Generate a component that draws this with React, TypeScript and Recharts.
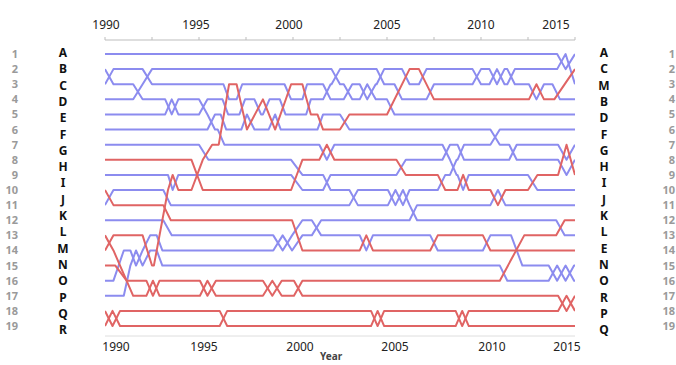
/* ---------- Rank Bump Chart 1990-2015 ---------- */
import { LineChart, Line, XAxis, YAxis } from 'recharts';

const BLUE = '#8c8cef';
const RED = '#e06464';

const rankTicks = [1, 2, 3, 4, 5, 6, 7, 8, 9, 10, 11, 12, 13, 14, 15, 16, 17, 18, 19];
const yearTicks = [1990, 1992.5, 1995, 1997.5, 2000, 2002.5, 2005, 2007.5, 2010, 2012.5, 2015];
const yearLabels = [1990, 1995, 2000, 2005, 2010, 2015];
const leftLetters = ['A', 'B', 'C', 'D', 'E', 'F', 'G', 'H', 'I', 'J', 'K', 'L', 'M', 'N', 'O', 'P', 'Q', 'R'];
const rightLetters = ['A', 'C', 'M', 'B', 'D', 'F', 'G', 'H', 'I', 'J', 'K', 'L', 'E', 'N', 'O', 'R', 'P', 'Q'];

// bend points [year, rank] for each line, named after its 1990 rank
const line1 = [[1990, 1], [2014.05, 1], [2014.5, 2], [2015, 1]];
const line2 = [[1990, 2], [1990.45, 3], [1991.5, 3], [1992, 4], [1993.2, 4], [1993.55, 5], [1993.9, 4], [1995, 4], [1995.45, 5], [1995.85, 6], [1996, 6], [1996.35, 7], [2001.4, 7], [2001.8, 8], [2002.2, 7], [2007.95, 7], [2008.35, 8], [2008.7, 9], [2008.75, 9], [2009.05, 10], [2009.35, 9], [2012.5, 9], [2013, 10], [2015, 10]];
const line3 = [[1990, 3], [1990.45, 2], [1992, 2], [1992.5, 3], [1996.3, 3], [1996.6, 4], [1997, 4], [1997.3, 3], [1999.55, 3], [1999.9, 4], [2000.5, 4], [2000.75, 3], [2001.6, 3], [2002, 4], [2002.7, 4], [2003.15, 3], [2003.55, 3], [2003.95, 4], [2004.4, 3], [2004.45, 3], [2004.85, 2], [2005.8, 2], [2006.2, 3], [2006.7, 3], [2007.1, 2], [2009.55, 2], [2010, 3], [2010.45, 3], [2010.85, 2], [2011.25, 3], [2011.4, 3], [2011.8, 2], [2014.05, 2], [2014.5, 1], [2015, 3]];
const line4 = [[1990, 4], [1991.5, 4], [1992, 3], [1992.5, 2], [2002.05, 2], [2002.5, 3], [2002.7, 3], [2003.15, 4], [2003.55, 4], [2003.95, 3], [2004.4, 4], [2005, 4], [2005.4, 5], [2015, 5]];
const line5 = [[1990, 5], [1993.2, 5], [1993.55, 4], [1993.9, 5], [1995, 5], [1995.45, 4], [1996.25, 4], [1996.55, 5], [1997.15, 5], [1997.45, 4], [1997.95, 4], [1998.3, 5], [1998.4, 5], [1998.75, 4], [1999.3, 4], [1999.6, 5], [2000.7, 5], [2000.95, 4], [2001.6, 4], [2002, 3], [2002.05, 3], [2002.5, 2], [2004.45, 2], [2004.85, 3], [2005.4, 3], [2005.8, 4], [2007.1, 4], [2007.5, 3], [2009.55, 3], [2010, 2], [2010.45, 2], [2010.85, 3], [2011.25, 2], [2011.4, 2], [2011.8, 3], [2012.55, 3], [2012.95, 4], [2013.35, 3], [2013.8, 3], [2014.2, 4], [2015, 4]];
const line6 = [[1990, 6], [1995.45, 6], [1995.85, 5], [1996.15, 5], [1996.45, 6], [1997.25, 6], [1997.55, 5], [1997.95, 6], [1998.7, 6], [1999.05, 5], [1999.35, 6], [2001.3, 6], [2001.6, 5], [2002.5, 5], [2003, 6], [2010.5, 6], [2011, 7], [2011.5, 7], [2011.9, 8], [2014.1, 8], [2014.55, 9], [2015, 8]];
const line7 = [[1990, 7], [1995, 7], [1995.5, 8], [1999.9, 8], [2000.5, 9], [2001.6, 9], [2002, 10], [2003, 10], [2003.45, 11], [2005.05, 11], [2005.45, 10], [2005.85, 11], [2006.2, 10], [2007.7, 10], [2008.1, 9], [2008.35, 9], [2008.7, 8], [2008.75, 8], [2009.1, 7], [2010.5, 7], [2011, 6], [2015, 6]];
const line8 = [[1990, 8], [1994.6, 8], [1995.2, 10], [1999.9, 10], [2000.5, 8], [2001.4, 8], [2001.8, 7], [2002.2, 8], [2005.5, 8], [2006, 9], [2007.7, 9], [2008.1, 10], [2008.75, 10], [2009.05, 9], [2009.35, 10], [2010.5, 10], [2010.9, 11], [2011.3, 10], [2012.5, 10], [2013, 9], [2014.1, 9], [2014.55, 7], [2015, 9]];
const line9 = [[1990, 9], [1993.35, 9], [1993.6, 10], [1993.9, 9], [1999.9, 9], [2000.5, 10], [2001.6, 10], [2002, 9], [2005.5, 9], [2006, 8], [2007.95, 8], [2008.35, 7], [2008.75, 7], [2009.1, 8], [2011.5, 8], [2011.9, 7], [2014.1, 7], [2014.55, 8], [2015, 7]];
const line10 = [[1990, 10], [1990.45, 11], [1993.1, 11], [1993.5, 12], [1999.95, 12], [2000.5, 14], [2003.55, 14], [2003.9, 13], [2004.25, 14], [2007.3, 14], [2007.7, 13], [2010.1, 13], [2010.5, 14], [2015, 14]];
const line11 = [[1990, 11], [1990.45, 10], [1993.1, 10], [1993.5, 11], [2003, 11], [2003.45, 10], [2005.05, 10], [2005.45, 11], [2005.85, 10], [2006.2, 11], [2006.6, 12], [2014, 12], [2014.45, 13], [2015, 13]];
const line12 = [[1990, 12], [1993.1, 12], [1993.55, 13], [1998.95, 13], [1999.45, 14], [1999.95, 13], [2000.5, 12], [2001, 12], [2001.5, 13], [2003.55, 13], [2003.9, 14], [2004.25, 13], [2007.3, 13], [2007.7, 14], [2010.1, 14], [2010.5, 13], [2011.6, 13], [2012.2, 15], [2013.6, 15], [2014.05, 16], [2014.5, 15], [2014.95, 16], [2015, 16]];
const line13 = [[1990, 13], [1990.45, 14], [1991.5, 17], [1992.2, 17], [1992.55, 16], [1992.9, 17], [1995.05, 17], [1995.45, 16], [1995.9, 17], [1998.4, 17], [1998.9, 16], [1999.4, 17], [2000.05, 17], [2000.5, 16], [2011, 16], [2012.3, 13], [2014, 13], [2014.45, 12], [2015, 12]];
const line14 = [[1990, 14], [1990.45, 13], [1992, 13], [1992.5, 15], [1992.6, 15], [1993.35, 10], [1993.6, 9], [1993.9, 10], [1994.6, 10], [1995.2, 8], [1995.7, 7], [1996.05, 7], [1996.6, 3], [1997, 3], [1997.55, 6], [1998.4, 4], [1999.05, 6], [1999.9, 3], [2000.5, 3], [2000.95, 5], [2001.3, 5], [2001.6, 6], [2002.5, 6], [2003, 5], [2005, 5], [2006.2, 2], [2006.7, 2], [2007.5, 4], [2012.55, 4], [2012.95, 3], [2013.35, 4], [2013.9, 4], [2015, 2]];
const line15 = [[1990, 15], [1990.55, 15], [1991.15, 16], [1992.2, 16], [1992.55, 17], [1992.9, 16], [1995.05, 16], [1995.45, 17], [1995.9, 16], [1998.4, 16], [1998.9, 17], [1999.4, 16], [2000.05, 16], [2000.5, 17], [2014.1, 17], [2014.55, 18], [2015, 17]];
const line16 = [[1990, 16], [1990.45, 16], [1991, 14], [1991.35, 14], [1991.65, 15], [1992, 14], [1992.4, 13], [1992.75, 13], [1993.05, 14], [1998.95, 14], [1999.45, 13], [1999.95, 14], [2000.5, 13], [2001, 13], [2001.5, 12], [2006.2, 12], [2006.6, 11], [2010.5, 11], [2010.9, 10], [2011.3, 11], [2015, 11]];
const line17 = [[1990, 17], [1991, 17], [1991.35, 15], [1991.65, 14], [1992, 15], [1992.4, 14], [1992.75, 14], [1993.05, 15], [2011, 15], [2011.4, 16], [2013.6, 16], [2014.05, 15], [2014.5, 16], [2014.95, 15], [2015, 15]];
const line18 = [[1990, 18], [1990.4, 19], [1990.8, 18], [1996.1, 18], [1996.5, 19], [2004.15, 19], [2004.5, 18], [2004.85, 19], [2008.65, 19], [2009, 18], [2009.35, 19], [2015, 19]];
const line19 = [[1990, 19], [1990.4, 18], [1990.8, 19], [1996.1, 19], [1996.5, 18], [2004.15, 18], [2004.5, 19], [2004.85, 18], [2008.65, 18], [2009, 19], [2009.35, 18], [2014.1, 18], [2014.55, 17], [2015, 18]];

const tracks = [line1, line2, line3, line4, line5, line6, line7, line8, line9, line10,
  line11, line12, line13, line14, line15, line16, line17, line18, line19];
const groups = ['b', 'b', 'b', 'b', 'b', 'b', 'b', 'r', 'b', 'r', 'b', 'b', 'r', 'r', 'r', 'b', 'b', 'r', 'r'];

const FONT = '"Noto Sans", "DejaVu Sans", sans-serif';
const topShift: Record<number, number> = { 1990: 1, 1995: -3, 2000: -4, 2005: 0, 2010: 0, 2015: -19 };
const bottomShift: Record<number, number> = { 1990: 11, 1995: 5, 2000: 7, 2005: 8, 2010: 11, 2015: -8 };

const toPoints = (t: number[][]) => t.map(([year, rank]) => ({ year, rank }));

const TopTick = (props: any) => {
  const { x, payload } = props;
  const v = payload.value;
  if (v % 5 !== 0) return <g />;
  return (
    <text x={x + (topShift[v] ?? 0)} y={29} textAnchor="middle" fontSize={12} fill="#222" fontFamily={FONT}>
      {v}
    </text>
  );
};

const BottomTick = (props: any) => {
  const { x, payload } = props;
  const v = payload.value;
  return (
    <text x={x + (bottomShift[v] ?? 0)} y={351} textAnchor="middle" fontSize={12} fill="#222" fontFamily={FONT}>
      {v}
    </text>
  );
};

const rankTick = (xPos: number) => (props: any) => {
  const { y, payload } = props;
  return (
    <text x={xPos} y={y + 4} textAnchor="end" fontSize={11} fontWeight="bold" fill="#9a9a9a" fontFamily={FONT}>
      {payload.value}
    </text>
  );
};

const letterStyle = (left: number, i: number): React.CSSProperties => ({
  position: 'absolute',
  left: left - 10,
  top: 53 + i * 16.3 - 8,
  width: 20,
  height: 16,
  lineHeight: '16px',
  textAlign: 'center',
  fontSize: 12,
  fontWeight: 'bold',
  color: '#111',
  fontFamily: FONT,
});

export default function App() {
  const order = tracks.map((_, i) => i).sort((a, b) => (groups[a] === groups[b] ? 0 : groups[a] === 'b' ? -1 : 1));
  return (
    <div style={{ position: 'absolute', left: 0, top: 0, width: 676, height: 365, background: '#fff', overflow: 'hidden' }}>
      <LineChart width={676} height={365} margin={{ top: 10, right: 41, bottom: 9, left: 45 }}>
        <XAxis
          xAxisId="t"
          orientation="top"
          dataKey="year"
          type="number"
          domain={[1990, 2015]}
          allowDataOverflow
          ticks={yearTicks}
          interval={0}
          height={30}
          tickSize={3}
          stroke="#bdbdbd"
          tick={TopTick}
        />
        <XAxis
          xAxisId="b"
          dataKey="year"
          type="number"
          domain={[1990, 2015]}
          allowDataOverflow
          ticks={yearLabels}
          interval={0}
          height={20}
          tickLine={false}
          stroke="#dedede"
          tick={BottomTick}
        />
        <YAxis
          yAxisId="l"
          type="number"
          reversed
          domain={[0.073, 19.66]}
          allowDataOverflow
          ticks={rankTicks}
          interval={0}
          width={60}
          axisLine={false}
          tickLine={false}
          tick={rankTick(18)}
        />
        <YAxis
          yAxisId="r"
          orientation="right"
          type="number"
          reversed
          domain={[0.073, 19.66]}
          allowDataOverflow
          ticks={rankTicks}
          interval={0}
          width={60}
          axisLine={false}
          tickLine={false}
          tick={rankTick(675)}
        />
        {/* carries the top axis; drawn underneath the visible line 1 */}
        <Line
          xAxisId="t"
          yAxisId="r"
          data={toPoints(line1)}
          dataKey="rank"
          stroke="transparent"
          dot={false}
          activeDot={false}
          isAnimationActive={false}
        />
        {order.map((i) => (
          <Line
            key={i}
            xAxisId="b"
            yAxisId="l"
            data={toPoints(tracks[i])}
            dataKey="rank"
            type="linear"
            stroke={groups[i] === 'r' ? RED : BLUE}
            strokeWidth={2}
            strokeLinejoin="round"
            dot={false}
            activeDot={false}
            isAnimationActive={false}
          />
        ))}
      </LineChart>
      {leftLetters.map((t, i) => (
        <div key={'l' + i} style={letterStyle(63, i)}>{t}</div>
      ))}
      {rightLetters.map((t, i) => (
        <div key={'r' + i} style={letterStyle(604, i)}>{t}</div>
      ))}
      <div style={{ position: 'absolute', left: 320, top: 350, fontSize: 10, lineHeight: '12px', fontWeight: 'bold', color: '#444', fontFamily: FONT }}>
        Year
      </div>
    </div>
  );
}
